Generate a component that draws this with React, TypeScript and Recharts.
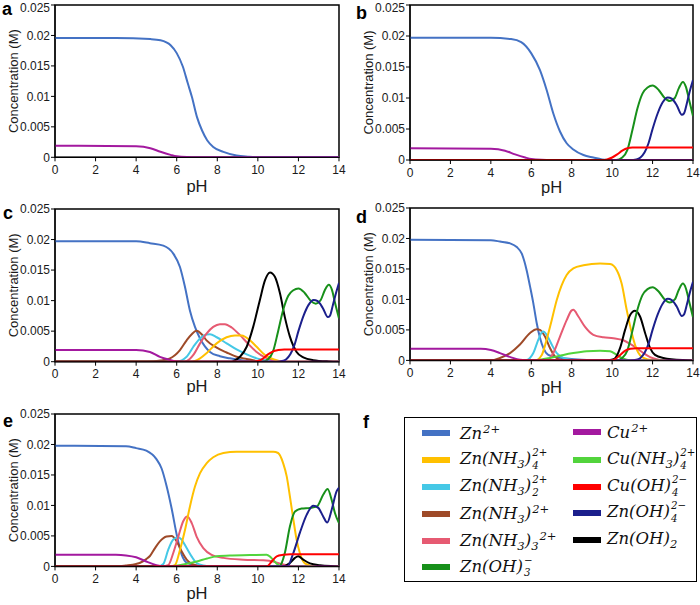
import React from 'react';
import { LineChart, Line, XAxis, YAxis, ReferenceArea } from 'recharts';

type Pt = [number, number];

const X_TICKS = [0, 2, 4, 6, 8, 10, 12, 14];
const Y_TICKS = [0, 0.005, 0.01, 0.015, 0.02, 0.025];

// ---------- panel a ----------
const aZn: Pt[] = [[0, 0.0196], [3, 0.0196], [4.7, 0.0194], [5.2, 0.0192], [5.7, 0.0184], [6.0, 0.0171], [6.3, 0.0149], [6.55, 0.0121], [6.75, 0.0099], [7.0, 0.0066], [7.25, 0.0044], [7.5, 0.0028], [7.8, 0.0017], [8.3, 0.0009], [8.95, 0.0003], [9.5, 0.0001], [10, 0], [14, 0]];
const aCu: Pt[] = [[0, 0.0019], [4, 0.0018], [4.7, 0.0015], [5.2, 0.0009], [5.7, 0.0004], [6, 0.00016], [6.5, 0.00003], [7, 0], [14, 0]];

// ---------- panel b ----------
const bZn: Pt[] = [[0, 0.0197], [4, 0.0197], [5, 0.0195], [5.5, 0.019], [6.0, 0.0172], [6.43, 0.0145], [6.76, 0.0113], [7.09, 0.0075], [7.42, 0.0046], [7.75, 0.0027], [8.08, 0.0017], [8.58, 0.0008], [9.07, 0.0004], [9.5, 0.0001], [10, 0], [14, 0]];
const bCu: Pt[] = [[0, 0.0019], [4, 0.0018], [4.7, 0.0015], [5.2, 0.0009], [5.7, 0.0004], [6, 0.00016], [6.5, 0.00003], [7, 0], [14, 0]];
const bCuOH4: Pt[] = [[0, 0], [9.5, 0], [9.75, 0.0001], [10.0, 0.0004], [10.25, 0.0009], [10.5, 0.0015], [10.75, 0.0019], [11.0, 0.002], [14, 0.002]];
const bZnOH3: Pt[] = [[0, 0], [10.2, 0], [10.5, 0.0004], [10.75, 0.0016], [11.0, 0.0048], [11.25, 0.0083], [11.5, 0.0107], [11.75, 0.0117], [12.0, 0.012], [12.3, 0.0113], [12.6, 0.01], [12.85, 0.0095], [13.1, 0.01], [13.3, 0.0116], [13.5, 0.0126], [13.65, 0.0118], [13.8, 0.0098], [14, 0.0071]];
const bZnOH4: Pt[] = [[0, 0], [10.9, 0], [11.2, 0.0001], [11.4, 0.0004], [11.6, 0.0012], [11.8, 0.0027], [12.0, 0.005], [12.25, 0.0075], [12.5, 0.0093], [12.75, 0.0101], [12.95, 0.0099], [13.2, 0.0088], [13.45, 0.0073], [13.55, 0.0075], [13.7, 0.0092], [13.85, 0.0112], [14, 0.0129]];

// ---------- panel c ----------
const cZn: Pt[] = [[0, 0.0197], [4, 0.0197], [4.68, 0.0194], [5.34, 0.019], [5.83, 0.0177], [6.16, 0.0155], [6.41, 0.0122], [6.65, 0.0084], [6.9, 0.0057], [7.15, 0.0038], [7.39, 0.0025], [7.64, 0.0016], [8.13, 0.0009], [8.62, 0.00055], [9.28, 0.0002], [10, 0], [14, 0]];
const cZnN1: Pt[] = [[0, 0], [4.5, 0], [5.2, 0.0002], [5.67, 0.00055], [6.16, 0.0019], [6.49, 0.0035], [6.74, 0.0045], [6.98, 0.00505], [7.23, 0.0045], [7.47, 0.0035], [7.97, 0.0023], [8.46, 0.0015], [8.95, 0.0008], [9.45, 0.00045], [10, 0.0001], [10.5, 0], [14, 0]];
const cZnN2: Pt[] = [[0, 0], [6.0, 0], [6.49, 0.0008], [6.82, 0.00245], [7.15, 0.0038], [7.47, 0.00447], [7.64, 0.0045], [7.97, 0.004], [8.46, 0.003], [8.95, 0.002], [9.45, 0.0012], [9.94, 0.00055], [10.43, 0.0002], [11, 0], [14, 0]];
const cZnN3: Pt[] = [[0, 0], [6.3, 0], [6.49, 0.0001], [6.82, 0.0011], [7.15, 0.003], [7.47, 0.0046], [7.8, 0.0057], [8.13, 0.00615], [8.38, 0.00615], [8.71, 0.0056], [9.12, 0.00435], [9.53, 0.0029], [9.94, 0.0016], [10.35, 0.0007], [10.76, 0.0002], [11.2, 0], [14, 0]];
const cZnN4: Pt[] = [[0, 0], [6.7, 0], [7.15, 0.00055], [7.47, 0.0014], [7.97, 0.003], [8.46, 0.004], [8.87, 0.0043], [9.2, 0.00427], [9.61, 0.0035], [9.94, 0.00245], [10.35, 0.0011], [10.76, 0.0004], [11.3, 0], [14, 0]];
const cZnOH2: Pt[] = [[0, 0], [8.6, 0], [8.79, 0.0001], [9.12, 0.0008], [9.45, 0.00245], [9.77, 0.0057], [10.1, 0.0101], [10.35, 0.0133], [10.6, 0.0146], [10.84, 0.0139], [11.09, 0.0112], [11.33, 0.0073], [11.58, 0.0041], [11.91, 0.0016], [12.24, 0.0007], [12.73, 0.00025], [13.5, 0.00005], [14, 0]];
const cCu: Pt[] = [[0, 0.0019], [4, 0.0019], [4.68, 0.0016], [5.17, 0.0008], [5.67, 0.0003], [6, 0.00005], [6.5, 0], [14, 0]];
const cCuOH4: Pt[] = [[0, 0], [9.8, 0], [10.0, 0.0001], [10.25, 0.0005], [10.5, 0.0012], [10.75, 0.0017], [11.0, 0.0019], [11.3, 0.002], [14, 0.002]];
const cZnOH3: Pt[] = [[0, 0], [10.2, 0], [10.5, 0.0004], [10.75, 0.0017], [11.0, 0.005], [11.25, 0.0085], [11.5, 0.0108], [11.75, 0.0117], [12.0, 0.012], [12.3, 0.0113], [12.6, 0.01], [12.85, 0.0095], [13.1, 0.0101], [13.3, 0.0117], [13.5, 0.0126], [13.65, 0.0118], [13.8, 0.0097], [14, 0.0071]];
const cZnOH4: Pt[] = [[0, 0], [10.9, 0], [11.2, 0.0001], [11.4, 0.0004], [11.6, 0.0012], [11.8, 0.0027], [12.0, 0.005], [12.25, 0.0075], [12.5, 0.0093], [12.75, 0.0101], [12.95, 0.0099], [13.2, 0.0088], [13.45, 0.0073], [13.55, 0.0075], [13.7, 0.0093], [13.85, 0.0112], [14, 0.0129]];

// ---------- panel d ----------
const dZn: Pt[] = [[0, 0.0198], [4, 0.0197], [4.45, 0.0195], [4.95, 0.0192], [5.28, 0.0186], [5.53, 0.0175], [5.77, 0.0148], [5.94, 0.0121], [6.1, 0.0094], [6.27, 0.0061], [6.43, 0.0037], [6.6, 0.002], [6.84, 0.0009], [7.26, 0.0005], [7.75, 0.0003], [8.5, 0.0001], [9.5, 0], [14, 0]];
const dZnN1: Pt[] = [[0, 0], [4.0, 0], [4.45, 0.0004], [4.95, 0.0012], [5.44, 0.0026], [5.94, 0.0045], [6.27, 0.0051], [6.43, 0.005], [6.68, 0.0039], [6.93, 0.002], [7.17, 0.00065], [7.42, 0.0001], [7.8, 0], [14, 0]];
const dZnN2: Pt[] = [[0, 0], [5.6, 0], [5.77, 0.00005], [6.1, 0.0012], [6.35, 0.0034], [6.52, 0.0046], [6.6, 0.00475], [6.76, 0.0042], [7.01, 0.0026], [7.26, 0.0012], [7.59, 0.0004], [8, 0.0001], [8.5, 0], [14, 0]];
const dZnN3: Pt[] = [[0, 0], [6.76, 0], [7.09, 0.0012], [7.42, 0.0039], [7.75, 0.0066], [8.0, 0.0082], [8.08, 0.0083], [8.33, 0.0072], [8.66, 0.0055], [9.07, 0.0042], [9.57, 0.0038], [10.06, 0.00365], [10.55, 0.0033], [10.89, 0.0027], [11.22, 0.002], [11.55, 0.0012], [11.88, 0.00055], [12.2, 0.0002], [12.6, 0], [14, 0]];
const dZnN4: Pt[] = [[0, 0], [6.2, 0], [6.52, 0.0009], [6.76, 0.0034], [7.01, 0.0066], [7.26, 0.0099], [7.5, 0.0123], [7.75, 0.014], [8.08, 0.0151], [8.58, 0.0156], [9.4, 0.0159], [9.9, 0.0158], [10.23, 0.0148], [10.47, 0.0126], [10.72, 0.0083], [10.97, 0.0045], [11.22, 0.00175], [11.55, 0.0004], [12, 0.00005], [12.5, 0], [14, 0]];
const dCuN4: Pt[] = [[0, 0], [6.0, 0], [6.4, 0.0001], [6.93, 0.0004], [7.59, 0.0009], [8.08, 0.0012], [8.74, 0.0015], [9.4, 0.0016], [9.9, 0.0015], [10.23, 0.0009], [10.47, 0.0004], [10.72, 0.0001], [11, 0], [14, 0]];
const dZnOH2: Pt[] = [[0, 0], [9.7, 0], [9.9, 0.00005], [10.13, 0.0003], [10.39, 0.002], [10.64, 0.005], [10.89, 0.00745], [11.13, 0.00815], [11.38, 0.0072], [11.63, 0.0045], [11.88, 0.002], [12.12, 0.0009], [12.53, 0.0004], [13.5, 0.00005], [14, 0]];
const dCu: Pt[] = [[0, 0.0019], [3.5, 0.0019], [4, 0.0017], [4.45, 0.0012], [5, 0.0005], [5.44, 0.0001], [6, 0], [14, 0]];
const dCuOH4: Pt[] = [[0, 0], [9.95, 0], [10.1, 0.0001], [10.4, 0.0009], [10.65, 0.0016], [10.9, 0.0019], [11.2, 0.002], [14, 0.002]];
const dZnOH3: Pt[] = [[0, 0], [10.2, 0], [10.5, 0.0004], [10.75, 0.0016], [11.0, 0.0048], [11.25, 0.0083], [11.5, 0.0107], [11.75, 0.0117], [12.0, 0.012], [12.3, 0.0113], [12.6, 0.01], [12.85, 0.0095], [13.1, 0.01], [13.3, 0.0116], [13.5, 0.0126], [13.65, 0.0118], [13.8, 0.0098], [14, 0.0071]];
const dZnOH4: Pt[] = [[0, 0], [10.9, 0], [11.2, 0.0001], [11.4, 0.0004], [11.6, 0.0012], [11.8, 0.0027], [12.0, 0.005], [12.25, 0.0075], [12.5, 0.0093], [12.75, 0.0101], [12.95, 0.0099], [13.2, 0.0088], [13.45, 0.0073], [13.55, 0.0075], [13.7, 0.0092], [13.85, 0.0112], [14, 0.0129]];

// ---------- panel e ----------
const eZn: Pt[] = [[0, 0.0198], [3.5, 0.0197], [4, 0.0194], [4.5, 0.019], [5, 0.0176], [5.25, 0.0161], [5.5, 0.0132], [5.75, 0.0095], [6, 0.0052], [6.25, 0.0019], [6.5, 0.0006], [7, 0.0001], [7.5, 0], [14, 0]];
const eZnN1: Pt[] = [[0, 0], [3.0, 0], [3.5, 0.00015], [4, 0.0004], [4.2, 0.0006], [4.5, 0.0012], [4.68, 0.0017], [4.93, 0.003], [5.17, 0.0041], [5.5, 0.0049], [5.75, 0.005], [6.0, 0.0041], [6.24, 0.0025], [6.49, 0.0011], [6.74, 0.0004], [7.2, 0.00005], [7.5, 0], [14, 0]];
const eZnN2: Pt[] = [[0, 0], [5.1, 0], [5.34, 0.0004], [5.58, 0.0027], [5.83, 0.0044], [6.08, 0.0048], [6.24, 0.0044], [6.49, 0.003], [6.74, 0.0016], [6.98, 0.00055], [7.31, 0.00015], [7.8, 0], [14, 0]];
const eZnN3: Pt[] = [[0, 0], [5.3, 0], [5.58, 0.0002], [5.83, 0.0022], [6.08, 0.0049], [6.32, 0.0074], [6.52, 0.0082], [6.74, 0.0071], [6.98, 0.0049], [7.31, 0.003], [7.72, 0.0019], [8.3, 0.0014], [9.28, 0.0011], [10.27, 0.001], [10.76, 0.0008], [11.09, 0.00045], [11.42, 0.0002], [12, 0], [14, 0]];
const eZnN4: Pt[] = [[0, 0], [5.7, 0], [5.91, 0.0002], [6.16, 0.0027], [6.41, 0.006], [6.65, 0.0098], [6.9, 0.0131], [7.15, 0.0153], [7.47, 0.0169], [7.8, 0.0179], [8.3, 0.0186], [8.95, 0.0188], [9.94, 0.0188], [10.76, 0.0188], [11.0, 0.0186], [11.25, 0.0169], [11.42, 0.0148], [11.58, 0.0115], [11.75, 0.0077], [11.91, 0.0044], [12.07, 0.0022], [12.32, 0.0005], [12.8, 0], [14, 0]];
const eCuN4: Pt[] = [[0, 0], [5.6, 0], [6.32, 0.0003], [6.98, 0.0008], [7.5, 0.0013], [7.97, 0.00165], [8.62, 0.0018], [9.61, 0.00185], [10.43, 0.0019], [10.6, 0.0016], [10.75, 0.0011], [10.93, 0.00045], [11.17, 0], [14, 0]];
const eZnOH2: Pt[] = [[0, 0], [11.2, 0], [11.58, 0.00055], [11.83, 0.0014], [11.99, 0.00165], [12.24, 0.0011], [12.57, 0.0005], [13.06, 0.0002], [13.6, 0.00005], [14, 0]];
const eCu: Pt[] = [[0, 0.0019], [3, 0.0019], [3.5, 0.0018], [4, 0.0015], [4.5, 0.0008], [5, 0.0002], [5.5, 0], [14, 0]];
const eCuOH4: Pt[] = [[0, 0], [10.45, 0], [10.68, 0.0008], [10.93, 0.00165], [11.25, 0.0019], [11.6, 0.002], [14, 0.002]];
const eZnOH3: Pt[] = [[0, 0], [11.0, 0], [11.09, 0.0001], [11.33, 0.0022], [11.58, 0.00655], [11.83, 0.009], [12.16, 0.0095], [12.57, 0.0096], [12.9, 0.0098], [13.22, 0.01175], [13.44, 0.0127], [13.64, 0.0109], [13.8, 0.00875], [14, 0.0071]];
const eZnOH4: Pt[] = [[0, 0], [11.45, 0], [11.75, 0.0022], [12.07, 0.0055], [12.41, 0.0085], [12.73, 0.00995], [12.98, 0.0096], [13.22, 0.0082], [13.42, 0.0072], [13.64, 0.0093], [13.88, 0.0123], [14, 0.0129]];

// ---------- species (colours + legend labels) ----------
type Part = { t?: string; k?: 'sub' | 'sup' | 'stack'; sup?: string; sub?: string };
const SPECIES: Record<string, { color: string; label: Part[] }> = {
  zn: { color: '#4472C4', label: [{ t: 'Zn' }, { k: 'sup', t: '2+' }] },
  znN4: { color: '#FFC000', label: [{ t: 'Zn(NH' }, { k: 'sub', t: '3' }, { t: ')' }, { k: 'stack', sup: '2+', sub: '4' }] },
  znN2: { color: '#45C8E6', label: [{ t: 'Zn(NH' }, { k: 'sub', t: '3' }, { t: ')' }, { k: 'stack', sup: '2+', sub: '2' }] },
  znN1: { color: '#9E4A28', label: [{ t: 'Zn(NH' }, { k: 'sub', t: '3' }, { t: ')' }, { k: 'sup', t: '2+' }] },
  znN3: { color: '#E65A72', label: [{ t: 'Zn(NH' }, { k: 'sub', t: '3' }, { t: ')' }, { k: 'sub', t: '3' }, { k: 'sup', t: '2+' }] },
  znOH3: { color: '#17901A', label: [{ t: 'Zn(OH)' }, { k: 'stack', sup: '\u2212', sub: '3' }] },
  cu: { color: '#A3199F', label: [{ t: 'Cu' }, { k: 'sup', t: '2+' }] },
  cuN4: { color: '#52D43C', label: [{ t: 'Cu(NH' }, { k: 'sub', t: '3' }, { t: ')' }, { k: 'stack', sup: '2+', sub: '4' }] },
  cuOH4: { color: '#FF0000', label: [{ t: 'Cu(OH)' }, { k: 'stack', sup: '2\u2212', sub: '4' }] },
  znOH4: { color: '#1B1F8C', label: [{ t: 'Zn(OH)' }, { k: 'stack', sup: '2\u2212', sub: '4' }] },
  znOH2: { color: '#000000', label: [{ t: 'Zn(OH)' }, { k: 'sub', t: '2' }] },
};

const LEGEND_COL1 = ['zn', 'znN4', 'znN2', 'znN1', 'znN3', 'znOH3'];
const LEGEND_COL2 = ['cu', 'cuN4', 'cuOH4', 'znOH4', 'znOH2'];

type Series = { key: string; pts: Pt[] };

const PANELS: { id: string; pl: number; pr: number; pt: number; pb: number; phOff: number; series: Series[] }[] = [
  { id: 'a', pl: 55, pr: 339, pt: 5, pb: 157.3, phOff: 5, series: [{ key: 'zn', pts: aZn }, { key: 'cu', pts: aCu }] },
  { id: 'b', pl: 410, pr: 693, pt: 5, pb: 160, phOff: 7, series: [{ key: 'zn', pts: bZn }, { key: 'znOH3', pts: bZnOH3 }, { key: 'znOH4', pts: bZnOH4 }, { key: 'cu', pts: bCu }, { key: 'cuOH4', pts: bCuOH4 }] },
  { id: 'c', pl: 55, pr: 339, pt: 209, pb: 361.7, phOff: 10, series: [{ key: 'zn', pts: cZn }, { key: 'znN1', pts: cZnN1 }, { key: 'znN2', pts: cZnN2 }, { key: 'znN3', pts: cZnN3 }, { key: 'znN4', pts: cZnN4 }, { key: 'znOH2', pts: cZnOH2 }, { key: 'znOH3', pts: cZnOH3 }, { key: 'znOH4', pts: cZnOH4 }, { key: 'cu', pts: cCu }, { key: 'cuOH4', pts: cCuOH4 }] },
  { id: 'd', pl: 410, pr: 693, pt: 208.3, pb: 360.7, phOff: 7, series: [{ key: 'zn', pts: dZn }, { key: 'znN1', pts: dZnN1 }, { key: 'znN2', pts: dZnN2 }, { key: 'znN3', pts: dZnN3 }, { key: 'znN4', pts: dZnN4 }, { key: 'cuN4', pts: dCuN4 }, { key: 'znOH2', pts: dZnOH2 }, { key: 'znOH3', pts: dZnOH3 }, { key: 'znOH4', pts: dZnOH4 }, { key: 'cu', pts: dCu }, { key: 'cuOH4', pts: dCuOH4 }] },
  { id: 'e', pl: 55, pr: 339, pt: 414.3, pb: 566.7, phOff: 7, series: [{ key: 'zn', pts: eZn }, { key: 'znN1', pts: eZnN1 }, { key: 'znN2', pts: eZnN2 }, { key: 'znN3', pts: eZnN3 }, { key: 'znN4', pts: eZnN4 }, { key: 'cuN4', pts: eCuN4 }, { key: 'znOH2', pts: eZnOH2 }, { key: 'znOH3', pts: eZnOH3 }, { key: 'znOH4', pts: eZnOH4 }, { key: 'cu', pts: eCu }, { key: 'cuOH4', pts: eCuOH4 }] },
];

const LETTERS = [
  { t: 'a', x: 2, y: 15 },
  { t: 'b', x: 356, y: 19 },
  { t: 'c', x: 3, y: 219 },
  { t: 'd', x: 356, y: 223 },
  { t: 'e', x: 3, y: 427 },
  { t: 'f', x: 363, y: 428 },
];

const SANS = 'Liberation Sans, Arial, sans-serif';
const TXT = '#1a1a1a';

function makeYTick(topShift: number) {
  return (props: any) => {
    const { x, y, payload } = props;
    const extra = payload.value === 0.025 ? topShift : 0;
    return (
      <text x={x} y={y + extra} dy={4.3} textAnchor="end" fontSize={12} fill={TXT} fontFamily={SANS}>
        {String(payload.value)}
      </text>
    );
  };
}

function Panel({ p }: { p: (typeof PANELS)[number] }) {
  const YAW = 84, MT = 10, MR = 8, XAH = 40;
  const pw = p.pr - p.pl;
  const ph = p.pb - p.pt;
  const topShift = p.pt < 20 ? 3 : 0;
  return (
    <div style={{ position: 'absolute', left: p.pl - YAW, top: p.pt - MT }}>
      <LineChart width={YAW + pw + MR} height={MT + ph + XAH} margin={{ top: MT, right: MR, left: 0, bottom: 0 }}>
        <XAxis
          type="number"
          dataKey="x"
          domain={[0, 14]}
          ticks={X_TICKS}
          height={XAH}
          allowDataOverflow
          axisLine={{ stroke: '#000' }}
          tickLine={{ stroke: '#000' }}
          tickSize={4}
          tickMargin={4}
          tick={{ fontSize: 12, fill: TXT, fontFamily: SANS }}
          label={{ value: 'pH', position: 'insideBottom', offset: p.phOff, style: { fontSize: 16.5, fill: TXT, fontFamily: SANS } }}
        />
        <YAxis
          type="number"
          domain={[0, 0.025]}
          ticks={Y_TICKS}
          width={YAW}
          allowDataOverflow
          axisLine={{ stroke: '#000' }}
          tickLine={{ stroke: '#000' }}
          tickSize={4}
          tickMargin={1}
          tick={makeYTick(topShift)}
          label={{ value: 'Concentration (M)', angle: -90, position: 'center', style: { fontSize: 13, fill: TXT, fontFamily: SANS } }}
        />
        <ReferenceArea x1={0} x2={14} y1={0} y2={0.025} fill="none" stroke="#000" strokeWidth={1.5} />
        {p.series.map((s) => (
          <Line
            key={s.key}
            data={s.pts.map(([x, y]) => ({ x, y }))}
            dataKey="y"
            type="monotone"
            stroke={SPECIES[s.key].color}
            strokeWidth={2}
            dot={false}
            activeDot={false}
            isAnimationActive={false}
          />
        ))}
      </LineChart>
    </div>
  );
}

function ChemLabel({ parts }: { parts: Part[] }) {
  return (
    <span style={{ fontFamily: 'DejaVu Serif, serif', fontStyle: 'italic', fontSize: 16.5, color: '#111', whiteSpace: 'nowrap' }}>
      {parts.map((pt, i) => {
        if (pt.k === 'sub') return <span key={i} style={{ fontSize: '0.7em', verticalAlign: '-0.35em' }}>{pt.t}</span>;
        if (pt.k === 'sup') return <span key={i} style={{ fontSize: '0.7em', verticalAlign: '0.55em', marginLeft: 1 }}>{pt.t}</span>;
        if (pt.k === 'stack')
          return (
            <span key={i} style={{ display: 'inline-flex', flexDirection: 'column', fontSize: '0.62em', lineHeight: 1.25, verticalAlign: 'middle', marginLeft: 1 }}>
              <span style={{ display: 'block' }}>{pt.sup}</span>
              <span style={{ display: 'block' }}>{pt.sub}</span>
            </span>
          );
        return <span key={i}>{pt.t}</span>;
      })}
    </span>
  );
}

function LegendPanel() {
  const rows1 = [432.7, 460, 486.7, 514, 540.7, 567.3];
  const rows2 = [431.7, 460, 486.7, 513, 540];
  const item = (key: string, cy: number, sx: number, tx: number) => (
    <React.Fragment key={key}>
      <div style={{ position: 'absolute', left: sx, top: cy - 3, width: 28, height: 6, background: SPECIES[key].color }} />
      <div style={{ position: 'absolute', left: tx, top: cy - 13, height: 26, display: 'flex', alignItems: 'center' }}>
        <ChemLabel parts={SPECIES[key].label} />
      </div>
    </React.Fragment>
  );
  return (
    <>
      <div style={{ position: 'absolute', left: 404, top: 417, width: 291, height: 163, border: '1.5px solid #000' }} />
      {LEGEND_COL1.map((k, i) => item(k, rows1[i], 422, 460))}
      {LEGEND_COL2.map((k, i) => item(k, rows2[i], 573, 607))}
    </>
  );
}

export default function App() {
  return (
    <div style={{ position: 'absolute', left: 0, top: 0, width: 700, height: 605, background: '#fff', overflow: 'hidden', fontFamily: SANS }}>
      {PANELS.map((p) => (
        <Panel key={p.id} p={p} />
      ))}
      <LegendPanel />
      <svg width={700} height={605} style={{ position: 'absolute', left: 0, top: 0, pointerEvents: 'none' }}>
        {LETTERS.map((l) => (
          <text key={l.t} x={l.x} y={l.y} fontFamily={SANS} fontWeight="bold" fontSize={18} fill="#000">
            {l.t}
          </text>
        ))}
      </svg>
    </div>
  );
}
